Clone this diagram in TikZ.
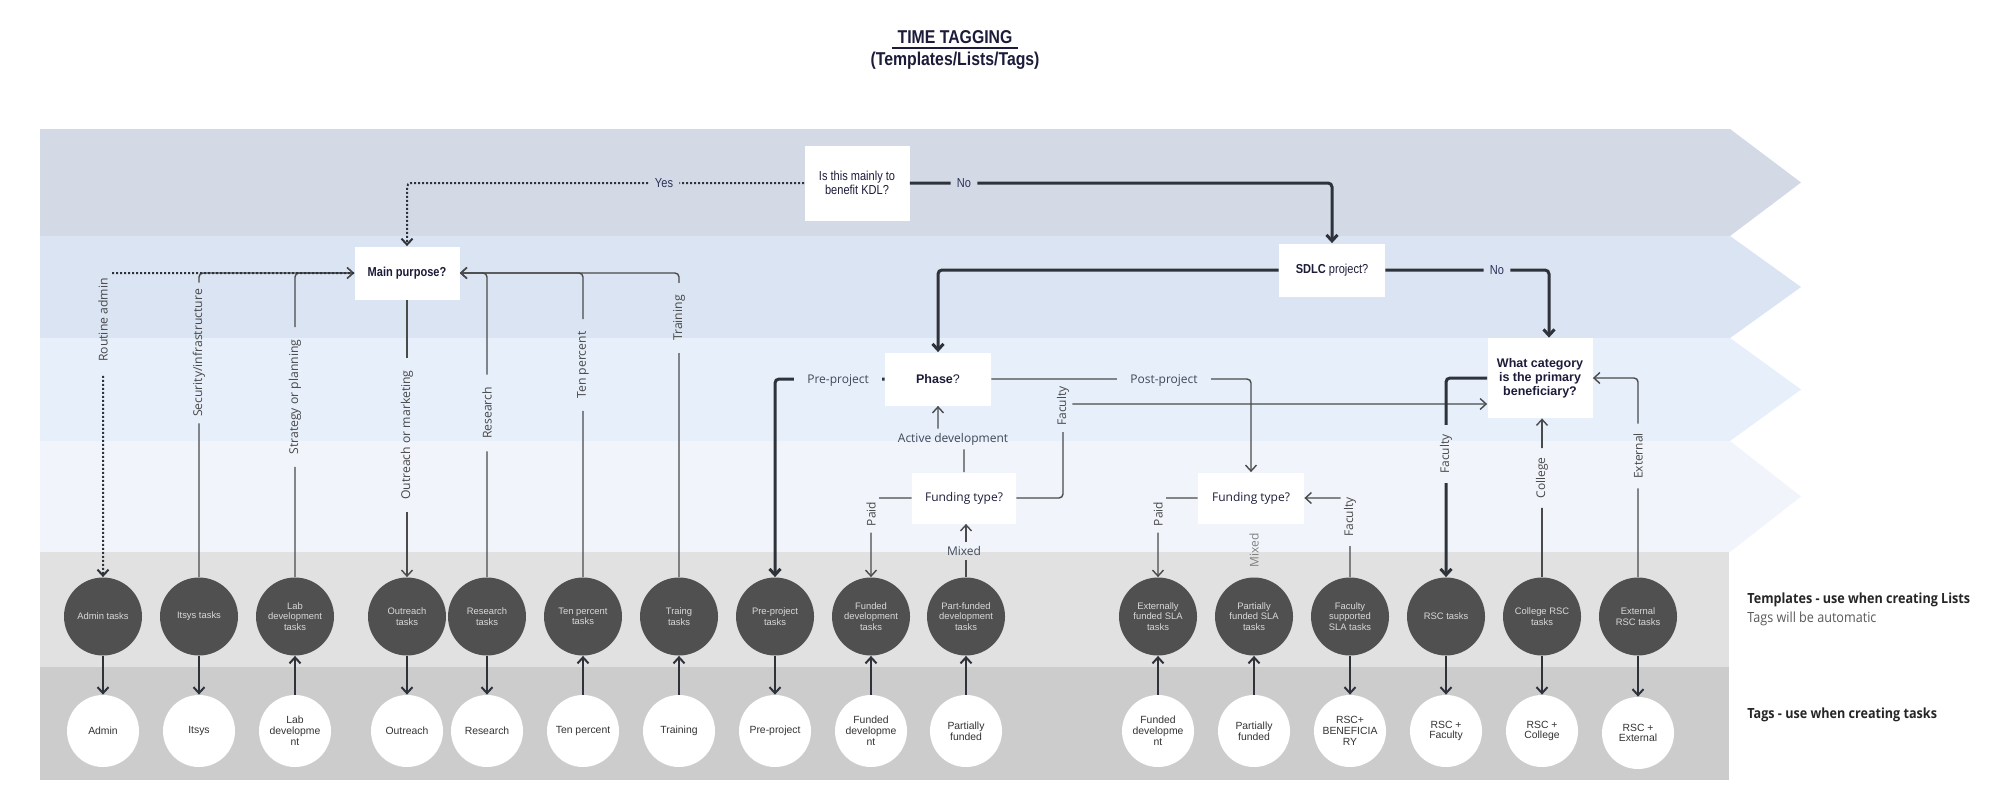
\documentclass[tikz,border=0pt]{standalone}
\usepackage{fontspec}
\setmainfont{Liberation Sans}
\newfontfamily\cond[FakeStretch=0.85]{Liberation Sans}
\newfontfamily\osans{Open Sans}
\newfontfamily\osc[FakeStretch=0.9]{Open Sans}
\usetikzlibrary{arrows.meta}
\definecolor{bandA}{HTML}{D3DAE6}
\definecolor{bandB}{HTML}{DAE4F2}
\definecolor{bandC}{HTML}{E7EFFA}
\definecolor{bandD}{HTML}{F1F5FB}
\definecolor{grayA}{HTML}{E1E1E1}
\definecolor{grayB}{HTML}{CCCCCC}
\definecolor{darkc}{HTML}{505050}
\definecolor{navy}{HTML}{1C1C3A}
\definecolor{yesno}{HTML}{2C3359}
\definecolor{lbl}{HTML}{3E4858}
\definecolor{vlbl}{HTML}{484848}
\definecolor{ln}{HTML}{4A4A4A}
\definecolor{lnk}{HTML}{2E333B}
\begin{document}
\begin{tikzpicture}[x=0.5pt,y=-0.5pt,
 box/.style={fill=white, inner sep=0pt, align=center, text=navy},
 dk/.style={circle, fill=darkc, minimum size=39pt, inner sep=0pt, align=center, text=white!85!black, font=\fontsize{4.7}{5.2}\selectfont},
 wt/.style={circle, fill=white, minimum size=36pt, inner sep=0pt, align=center, text=black!80, font=\fontsize{5.2}{5.4}\selectfont},
 elab/.style={inner xsep=6.5pt, inner ysep=2pt, text=lbl, font=\osans\fontsize{6}{7}\selectfont},
 yn/.style={inner xsep=3pt, inner ysep=2pt, text=yesno, font=\cond\fontsize{6.5}{7}\selectfont},
 vlab/.style={rotate=90, inner xsep=4.5pt, inner ysep=1.5pt, text=vlbl, font=\osans\fontsize{6}{7}\selectfont},
 vlabw/.style={rotate=90, inner xsep=6pt, inner ysep=1.5pt, text=vlbl, font=\osans\fontsize{6.1}{7}\selectfont},
 thin/.style={draw=ln, line width=0.7pt, rounded corners=2pt},
 thick/.style={draw=lnk, line width=1.5pt, rounded corners=2pt},
 mid/.style={draw=lnk, line width=1pt},
 dotline/.style={draw=lnk, line width=1pt, dash pattern=on 1pt off 1pt, rounded corners=2pt},
 arr/.style={-{Straight Barb[length=3pt,width=5.5pt]}},
 ]
\useasboundingbox (0,0) rectangle (2000,803);
\fill[white] (0,0) rectangle (2000,803);
% bands
\fill[bandA] (40,129) -- (1730,129) -- (1801,182.5) -- (1730,236) -- (40,236) -- cycle;
\fill[bandB] (40,236) -- (1730,236) -- (1801,287) -- (1730,338) -- (40,338) -- cycle;
\fill[bandC] (40,338) -- (1730,338) -- (1801,389.5) -- (1730,441) -- (40,441) -- cycle;
\fill[bandD] (40,441) -- (1730,441) -- (1801,496.5) -- (1730,552) -- (40,552) -- cycle;
\fill[grayA] (40,552) rectangle (1729,667);
\fill[grayB] (40,667) rectangle (1729,780);
% title
\node[inner sep=0pt, text=navy, font=\cond\bfseries\fontsize{9.3}{10}\selectfont] (ttl) at (955,37) {TIME TAGGING};
\draw[navy, line width=0.8pt] ([shift={(-5,4)}]ttl.south west) -- ([shift={(5,4)}]ttl.south east);
\node[inner sep=0pt, text=navy, font=\cond\bfseries\fontsize{9.3}{10}\selectfont] (sub) at (955,61) {(Templates/Lists/Tags)};
% right notes
\node[anchor=west, inner sep=0pt, font=\osc\bfseries\fontsize{7}{8}\selectfont, text=black!85] (n1) at (1747,600) {Templates - use when creating Lists};
\node[anchor=west, inner sep=0pt, font=\osc\fontsize{7}{8}\selectfont, text=black!65] (n2) at (1747,619) {Tags will be automatic};
\node[anchor=west, inner sep=0pt, font=\osc\bfseries\fontsize{7}{8}\selectfont, text=black!85] (n3) at (1747,715) {Tags - use when creating tasks};
% decision boxes
\node[box, minimum width=52.5pt, minimum height=37.5pt, font=\cond\fontsize{6.5}{7.2}\selectfont] (kdl) at (857,183) {Is this mainly to\\benefit KDL?};
\node[box, minimum width=52.5pt, minimum height=26.5pt, font=\cond\bfseries\fontsize{6.5}{7}\selectfont] (mainp) at (407,273) {Main purpose?};
\node[box, minimum width=53pt, minimum height=26.5pt, font=\cond\fontsize{6.5}{7}\selectfont] (sdlc) at (1332,270) {\textbf{SDLC} project?};
\node[box, minimum width=53pt, minimum height=26.5pt, font=\fontsize{6.25}{7}\selectfont] (phase) at (938,379) {\textbf{Phase}?};
\node[box, minimum width=52pt, minimum height=25.5pt, font=\osans\fontsize{6}{7}\selectfont] (fund1) at (964,498) {Funding type?};
\node[box, minimum width=53pt, minimum height=25.5pt, font=\osans\fontsize{6}{7}\selectfont] (fund2) at (1251,498) {Funding type?};
\node[box, minimum width=52.5pt, minimum height=40pt, font=\bfseries\fontsize{6.25}{7}\selectfont] (cat) at (1540,378) {What category\\is the primary\\beneficiary?};
% template circles
\node[dk] (t1) at (103,616.5) {Admin tasks};
\node[dk] (t2) at (199,616.5) {Itsys tasks};
\node[dk] (t3) at (295,616.5) {Lab\\development\\tasks};
\node[dk] (t4) at (407,616.5) {Outreach\\tasks};
\node[dk] (t5) at (487,616.5) {Research\\tasks};
\node[dk] (t6) at (583,616.5) {Ten percent\\tasks};
\node[dk] (t7) at (679,616.5) {Traing\\tasks};
\node[dk] (t8) at (775,616.5) {Pre-project\\tasks};
\node[dk] (t9) at (871,616.5) {Funded\\development\\tasks};
\node[dk] (t10) at (966,616.5) {Part-funded\\development\\tasks};
\node[dk] (t11) at (1158,616.5) {Externally\\funded SLA\\tasks};
\node[dk] (t12) at (1254,616.5) {Partially\\funded SLA\\tasks};
\node[dk] (t13) at (1350,616.5) {Faculty\\supported\\SLA tasks};
\node[dk] (t14) at (1446,616.5) {RSC tasks};
\node[dk] (t15) at (1542,616.5) {College RSC\\tasks};
\node[dk] (t16) at (1638,616.5) {External\\RSC tasks};
% tag circles
\node[wt] (w1) at (103,731) {Admin};
\node[wt] (w2) at (199,731) {Itsys};
\node[wt] (w3) at (295,731) {Lab\\developme\\nt};
\node[wt] (w4) at (407,731) {Outreach};
\node[wt] (w5) at (487,731) {Research};
\node[wt] (w6) at (583,731) {Ten percent};
\node[wt] (w7) at (679,731) {Training};
\node[wt] (w8) at (775,731) {Pre-project};
\node[wt] (w9) at (871,731) {Funded\\developme\\nt};
\node[wt] (w10) at (966,731) {Partially\\funded};
\node[wt] (w11) at (1158,731) {Funded\\developme\\nt};
\node[wt] (w12) at (1254,731) {Partially\\funded};
\node[wt] (w13) at (1350,731) {RSC+\\BENEFICIA\\RY};
\node[wt] (w14) at (1446,731) {RSC +\\Faculty};
\node[wt] (w15) at (1542,731) {RSC +\\College};
\node[wt] (w16) at (1638,733) {RSC +\\External};
% connector labels
\node[yn] (lyes) at (664,183) {Yes};
\node[yn] (lno) at (964,183) {No};
\node[yn] (lno2) at (1497,270) {No};
\node[elab] (lpre) at (838,381) {Pre-project};
\node[elab] (lpost) at (1164,381) {Post-project};
\node[elab] (lact) at (953,439) {Active development};
\node[elab, inner xsep=2pt] (lmix1) at (964,551) {Mixed};
\node[vlab, inner xsep=3pt] (lpaid1) at (871,514) {Paid};
\node[vlab, inner xsep=3pt] (lfac1) at (1063,406) {Faculty};
\node[vlab, inner xsep=3pt] (lpaid2) at (1158,514) {Paid};
\node[vlab, text=black!50] (lmix2) at (1254,550) {Mixed};
\node[vlab] (lfac2) at (1350,517) {Faculty};
\node[vlab] (lfac3) at (1446,454) {Faculty};
\node[vlab] (lcol) at (1542,478) {College};
\node[vlab] (lext) at (1638,456) {External};
\node[vlabw] (lra) at (103,320) {Routine admin};
\node[vlabw, inner xsep=3pt] (lsec) at (199,353) {Security/infrastructure};
\node[vlabw] (lstr) at (295,397) {Strategy or planning};
\node[vlabw] (lout) at (407,435) {Outreach or marketing};
\node[vlabw] (lres) at (487,413) {Research};
\node[vlabw] (lten) at (583,365) {Ten percent};
\node[vlabw] (ltra) at (679,318) {Training};
\coordinate (fc) at (1063,404);
% connectors, with gaps behind the labels
\begin{scope}[even odd rule]
\clip (0,0) rectangle (2000,803)
 (lyes.south west) rectangle (lyes.north east)
 (lno.south west) rectangle (lno.north east)
 (lno2.south west) rectangle (lno2.north east)
 (lpre.south west) rectangle (lpre.north east)
 (lpost.south west) rectangle (lpost.north east)
 (lact.south west) rectangle (lact.north east)
 (lmix1.south west) rectangle (lmix1.north east)
 (lpaid1.south west) rectangle (lpaid1.north east)
 (lfac1.south west) rectangle (lfac1.north east)
 (lpaid2.south west) rectangle (lpaid2.north east)
 (lfac2.south west) rectangle (lfac2.north east)
 (lfac3.south west) rectangle (lfac3.north east)
 (lcol.south west) rectangle (lcol.north east)
 (lext.south west) rectangle (lext.north east)
 (lra.south west) rectangle (lra.north east)
 (lsec.south west) rectangle (lsec.north east)
 (lstr.south west) rectangle (lstr.north east)
 (lout.south west) rectangle (lout.north east)
 (lres.south west) rectangle (lres.north east)
 (lten.south west) rectangle (lten.north east)
 (ltra.south west) rectangle (ltra.north east);
% upper flow
\draw[dotline, arr] (kdl.west) -| (mainp.north);
\draw[thick, arr] (kdl.east) -| (sdlc.north);
\draw[thick, arr] (sdlc.west) -| (phase.north);
\draw[thick, arr] (sdlc.east) -| ([xshift=4.5pt]cat.north);
\draw[thick, arr] (phase.west) -| (t8.north);
\draw[thin, arr] (phase.east) -| (fund2.north);
\draw[thin, arr] (fund1.north) -- ++(0,-33) -| (phase.south);
\draw[thin, arr] (t10.north) -- (t10.north |- fund1.south);
\draw[thin, arr] (fund1.west) -| (t9.north);
\draw[thin, arr] (fund1.east) -| (fc) -- (fc -| cat.west);
\draw[thin, arr] (fund2.west) -| (t11.north);
\draw[thin, arr] (t13.north) |- (fund2.east);
\draw[thick, arr] (cat.west) -| (t14.north);
\draw[thin, arr] (t15.north) -- (t15.north |- cat.south);
\draw[thin, arr] (t16.north) |- (cat.east);
% main purpose group
\draw[thin, arr] (t2.north) |- (mainp.west);
\draw[thin, arr] (t3.north) |- (mainp.west);
\draw[dotline, arr] (mainp.west) -| (t1.north);
\draw[thin, arr] (mainp.south) -- (t4.north);
\draw[thin, arr] (t5.north) |- (mainp.east);
\draw[thin, arr] (t6.north) |- (mainp.east);
\draw[thin, arr] (t7.north) |- (mainp.east);
\end{scope}
% templates to tags
\draw[mid, arr] (t1.south) -- (w1.north);
\draw[mid, arr] (t2.south) -- (w2.north);
\draw[mid, arr] (w3.north) -- (t3.south);
\draw[mid, arr] (t4.south) -- (w4.north);
\draw[mid, arr] (t5.south) -- (w5.north);
\draw[mid, arr] (w6.north) -- (t6.south);
\draw[mid, arr] (w7.north) -- (t7.south);
\draw[mid, arr] (t8.south) -- (w8.north);
\draw[mid, arr] (w9.north) -- (t9.south);
\draw[mid, arr] (w10.north) -- (t10.south);
\draw[mid, arr] (w11.north) -- (t11.south);
\draw[mid, arr] (w12.north) -- (t12.south);
\draw[mid, arr] (t13.south) -- (w13.north);
\draw[mid, arr] (t14.south) -- (w14.north);
\draw[mid, arr] (t15.south) -- (w15.north);
\draw[mid, arr] (t16.south) -- (w16.north);
\end{tikzpicture}
\end{document}
